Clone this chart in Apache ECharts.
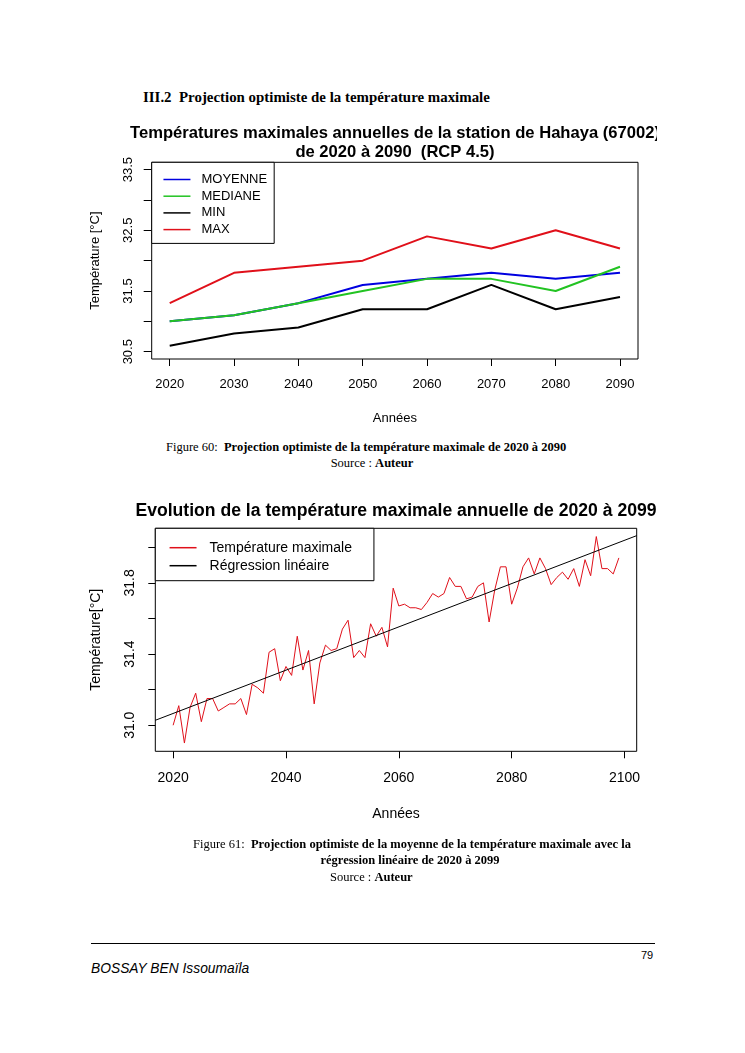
<!DOCTYPE html>
<html>
<head>
<meta charset="utf-8">
<script src="https://cdn.jsdelivr.net/npm/echarts@6.0.0/dist/echarts.min.js"></script>
<style>
  html, body { margin:0; padding:0; background:#fff; }
  body { width:745px; height:1053px; position:relative; overflow:hidden; }
  .t { position:absolute; white-space:nowrap; color:#000; font-family:"Liberation Serif","Times New Roman",serif; }
  .b { font-weight:bold; }
  #c1 { position:absolute; left:0; top:110px; width:657px; height:330px; }
  #c2 { position:absolute; left:0; top:490px; width:657px; height:350px; }
</style>
</head>
<body>
<div class="t b" style="left:143px;top:88px;font-size:14.9px;line-height:18px;">III.2&nbsp; Projection optimiste de la température maximale</div>
<div id="c1"></div>
<div class="t" style="left:166px;top:440px;font-size:12.5px;line-height:15px;">Figure 60:&nbsp; <span class="b">Projection optimiste de la température maximale de 2020 à 2090</span></div>
<div class="t" style="left:272px;width:200px;text-align:center;top:456px;font-size:12.5px;line-height:15px;">Source : <span class="b">Auteur</span></div>
<div id="c2"></div>
<div class="t" style="left:193px;top:837px;font-size:12.5px;line-height:15px;">Figure 61:&nbsp; <span class="b">Projection optimiste de la moyenne de la température maximale avec la</span></div>
<div class="t b" style="left:310px;width:200px;text-align:center;top:853px;font-size:12.5px;line-height:15px;">régression linéaire de 2020 à 2099</div>
<div class="t" style="left:330px;top:870px;font-size:12.5px;line-height:15px;">Source : <span class="b">Auteur</span></div>
<div style="position:absolute;left:91px;top:943px;width:564px;height:0;border-top:1px solid #000;"></div>
<div class="t" style="left:641px;top:949px;font-size:11px;line-height:13px;font-family:'Liberation Sans',Arial,sans-serif;">79</div>
<div class="t" style="left:91px;top:961px;font-size:13.8px;line-height:16px;font-style:italic;font-family:'Liberation Sans',Arial,sans-serif;">BOSSAY BEN Issoumaïla</div>
<script>
// ---------- Chart 1 data ----------
const years1 = [2020, 2030, 2040, 2050, 2060, 2070, 2080, 2090];
const moyenne = [31.0, 31.1, 31.3, 31.6, 31.7, 31.8, 31.7, 31.8];
const mediane = [31.0, 31.1, 31.3, 31.5, 31.7, 31.7, 31.5, 31.9];
const minT    = [30.6, 30.8, 30.9, 31.2, 31.2, 31.6, 31.2, 31.4];
const maxT    = [31.3, 31.8, 31.9, 32.0, 32.4, 32.2, 32.5, 32.2];
const yTicks1 = [30.5, 31.0, 31.5, 32.0, 32.5, 33.0, 33.5];
const yLabels1 = [30.5, 31.5, 32.5, 33.5];

// ---------- Chart 2 data ----------
const years2 = [2020,2021,2022,2023,2024,2025,2026,2027,2028,2029,
  2030,2031,2032,2033,2034,2035,2036,2037,2038,2039,
  2040,2041,2042,2043,2044,2045,2046,2047,2048,2049,
  2050,2051,2052,2053,2054,2055,2056,2057,2058,2059,
  2060,2061,2062,2063,2064,2065,2066,2067,2068,2069,
  2070,2071,2072,2073,2074,2075,2076,2077,2078,2079,
  2080,2081,2082,2083,2084,2085,2086,2087,2088,2089,
  2090,2091,2092,2093,2094,2095,2096,2097,2098,2099];
const tmax = [31.00,31.11,30.90,31.10,31.18,31.02,31.15,31.15,31.08,31.10,
  31.12,31.12,31.15,31.06,31.23,31.21,31.18,31.41,31.43,31.25,
  31.33,31.28,31.50,31.31,31.42,31.12,31.35,31.45,31.42,31.43,
  31.54,31.59,31.38,31.42,31.38,31.57,31.50,31.55,31.44,31.77,
  31.67,31.68,31.66,31.66,31.65,31.69,31.74,31.72,31.74,31.83,
  31.78,31.78,31.71,31.72,31.78,31.80,31.58,31.76,31.89,31.89,
  31.68,31.77,31.89,31.94,31.85,31.94,31.88,31.79,31.83,31.86,
  31.82,31.88,31.78,31.93,31.84,32.06,31.88,31.88,31.85,31.94];
const xTicks2 = [2020, 2040, 2060, 2080, 2100];
const yTicks2 = [31.0, 31.2, 31.4, 31.6, 31.8, 32.0];
const yLabels2 = [31.0, 31.4, 31.8];

const SANS = "'Liberation Sans', Arial, sans-serif";
const BLUE = '#0000e0', GREEN = '#22c322', RED = '#e0101a', BLACK = '#000000';
const pair = (xs, ys) => xs.map((x, i) => [x, ys[i]]);

// R-style range extension (4%)
function rng(a, b) { const d = (b - a) * 0.04; return [a - d, b + d]; }
const legItem = (name, color) => ({ name, lineStyle: { color, width: 1.5 }, itemStyle: { color, opacity: 0 } });

// ---------- Chart 1 ----------
const x1 = rng(2020, 2090);
const y1 = rng(30.5, 33.5);
const c1 = echarts.init(document.getElementById('c1'), null, {renderer: 'canvas'});
c1.setOption({
  animation: false,
  backgroundColor: '#fff',
  textStyle: { fontFamily: SANS },
  graphic: [
    { type: 'text', x: 395, y: 23, style: { text: 'Températures maximales annuelles de la station de Hahaya (67002)', font: "bold 16.6px " + SANS, fill: '#000', textAlign: 'center', textVerticalAlign: 'middle' } },
    { type: 'text', x: 395, y: 42, style: { text: 'de 2020 à 2090  (RCP 4.5)', font: "bold 16.6px " + SANS, fill: '#000', textAlign: 'center', textVerticalAlign: 'middle' } }
  ],
  grid: { left: 151.7, top: 52.3, width: 486.3, height: 196.7, show: true, borderColor: '#000', borderWidth: 1, backgroundColor: 'transparent' },
  legend: {
    orient: 'vertical', left: 151.7, top: 52.3,
    padding: [10.7, 7, 7.3, 11],
    itemWidth: 27, itemHeight: 13, itemGap: 3.7,
    borderColor: '#000', borderWidth: 1, backgroundColor: '#fff', borderRadius: 0,
    lineStyle: { width: 1.5 },
    itemStyle: { opacity: 0 },
    textStyle: { fontSize: 13, color: '#000', fontFamily: SANS, padding: [0, 0, 0, 6] },
    data: [legItem('MOYENNE', BLUE), legItem('MEDIANE', GREEN), legItem('MIN', BLACK), legItem('MAX', RED)]
  },
  xAxis: {
    type: 'value', min: x1[0], max: x1[1],
    name: 'Années', nameLocation: 'middle', nameGap: 53,
    nameTextStyle: { fontSize: 13, color: '#000', fontFamily: SANS },
    axisLine: { show: false },
    axisTick: { show: true, inside: false, length: 7, lineStyle: { color: '#000' }, customValues: years1 },
    axisLabel: { fontSize: 13, color: '#000', margin: 19, customValues: years1, formatter: v => String(v) },
    splitLine: { show: false }
  },
  yAxis: {
    type: 'value', min: y1[0], max: y1[1],
    name: 'Température [°C]', nameLocation: 'middle', nameGap: 50, nameRotate: 90,
    nameTextStyle: { fontSize: 13, color: '#000', fontFamily: SANS },
    axisLine: { show: false },
    axisTick: { show: true, inside: false, length: 8, lineStyle: { color: '#000' }, customValues: yTicks1 },
    axisLabel: { fontSize: 13, color: '#000', margin: 17, rotate: 90, customValues: yLabels1, formatter: v => v.toFixed(1) },
    splitLine: { show: false }
  },
  series: [
    { name: 'MOYENNE', type: 'line', data: pair(years1, moyenne), symbol: 'none', lineStyle: { color: BLUE, width: 2 }, itemStyle: { color: BLUE } },
    { name: 'MEDIANE', type: 'line', data: pair(years1, mediane), symbol: 'none', lineStyle: { color: GREEN, width: 2 }, itemStyle: { color: GREEN } },
    { name: 'MIN', type: 'line', data: pair(years1, minT), symbol: 'none', lineStyle: { color: BLACK, width: 2 }, itemStyle: { color: BLACK } },
    { name: 'MAX', type: 'line', data: pair(years1, maxT), symbol: 'none', lineStyle: { color: RED, width: 2 }, itemStyle: { color: RED } }
  ]
});

// ---------- Chart 2 ----------
const x2 = rng(2020, 2099);
const y2 = rng(Math.min(...tmax), Math.max(...tmax));
// least-squares regression from the data
const n = years2.length;
const mx = years2.reduce((s, v) => s + v, 0) / n;
const my = tmax.reduce((s, v) => s + v, 0) / n;
let sxy = 0, sxx = 0;
for (let i = 0; i < n; i++) { sxy += (years2[i] - mx) * (tmax[i] - my); sxx += (years2[i] - mx) ** 2; }
const slope = sxy / sxx, icpt = my - slope * mx;
const regLine = [[x2[0], icpt + slope * x2[0]], [x2[1], icpt + slope * x2[1]]];

const c2 = echarts.init(document.getElementById('c2'), null, {renderer: 'canvas'});
c2.setOption({
  animation: false,
  backgroundColor: '#fff',
  textStyle: { fontFamily: SANS },
  graphic: [
    { type: 'text', x: 396, y: 21, style: { text: 'Evolution de la température maximale annuelle de 2020 à 2099', font: "bold 17.6px " + SANS, fill: '#000', textAlign: 'center', textVerticalAlign: 'middle' } }
  ],
  grid: { left: 155.3, top: 38.3, width: 481.4, height: 223, show: true, borderColor: '#000', borderWidth: 1, backgroundColor: 'transparent' },
  legend: {
    orient: 'vertical', left: 155.3, top: 38.3,
    padding: [12.4, 22, 8, 13.5],
    itemWidth: 27, itemHeight: 14, itemGap: 4,
    borderColor: '#000', borderWidth: 1, backgroundColor: '#fff', borderRadius: 0,
    lineStyle: { width: 1.5 },
    itemStyle: { opacity: 0 },
    textStyle: { fontSize: 14, color: '#000', fontFamily: SANS, padding: [0, 0, 0, 8] },
    data: [legItem('Température maximale', RED), legItem('Régression linéaire', BLACK)]
  },
  xAxis: {
    type: 'value', min: x2[0], max: x2[1],
    name: 'Années', nameLocation: 'middle', nameGap: 56,
    nameTextStyle: { fontSize: 14, color: '#000', fontFamily: SANS },
    axisLine: { show: false },
    axisTick: { show: true, inside: false, length: 7, lineStyle: { color: '#000' }, customValues: xTicks2 },
    axisLabel: { fontSize: 14, color: '#000', margin: 20, customValues: xTicks2, formatter: v => String(v) },
    splitLine: { show: false }
  },
  yAxis: {
    type: 'value', min: y2[0], max: y2[1],
    name: 'Température[°C]', nameLocation: 'middle', nameGap: 52, nameRotate: 90,
    nameTextStyle: { fontSize: 14, color: '#000', fontFamily: SANS },
    axisLine: { show: false },
    axisTick: { show: true, inside: false, length: 7, lineStyle: { color: '#000' }, customValues: yTicks2 },
    axisLabel: { fontSize: 14, color: '#000', margin: 18, rotate: 90, customValues: yLabels2, formatter: v => v.toFixed(1) },
    splitLine: { show: false }
  },
  series: [
    { name: 'Température maximale', type: 'line', data: pair(years2, tmax), symbol: 'none', lineStyle: { color: RED, width: 1 }, itemStyle: { color: RED } },
    { name: 'Régression linéaire', type: 'line', data: regLine, symbol: 'none', lineStyle: { color: BLACK, width: 1 }, itemStyle: { color: BLACK } }
  ]
});
</script>
</body>
</html>
